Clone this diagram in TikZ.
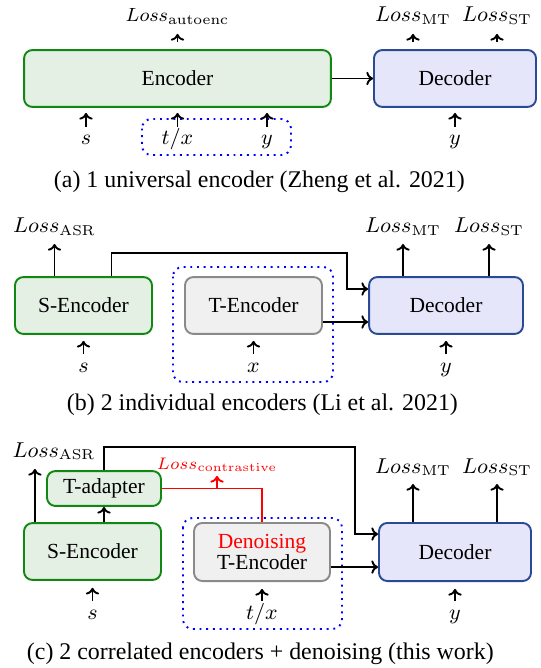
\documentclass[tikz,border=0pt]{standalone}
\usepackage[no-math]{fontspec}
\setmainfont{Liberation Serif}
\usepackage{amsmath}
\usepackage{xcolor}
\usepackage{tikz}
\usetikzlibrary{arrows.meta,positioning,calc}
\definecolor{encline}{HTML}{118811}
\definecolor{encfill}{HTML}{E5F0E5}
\definecolor{decline}{HTML}{2B4A96}
\definecolor{decfill}{HTML}{E6E6FA}
\definecolor{tline}{HTML}{8A8A8A}
\definecolor{tfill}{HTML}{F0F0F0}

\begin{document}
\begin{tikzpicture}[x=0.4184pt,y=-0.4184pt,thick,>={To[length=2.8pt,width=5.6pt]},
  encbox/.style={rectangle,rounded corners=3.5pt,draw=encline,fill=encfill,minimum height=23.8pt,font=\small},
  decbox/.style={rectangle,rounded corners=3.5pt,draw=decline,fill=decfill,minimum height=23.8pt,font=\small},
  tbox/.style={rectangle,rounded corners=3.5pt,draw=tline,fill=tfill,minimum height=23.8pt,font=\small},
  grp/.style={draw=blue,dotted,rounded corners=4pt},
  lss/.style={inner sep=0pt,text depth=0pt,font=\small,anchor=base},
  inp/.style={inner sep=0pt,text height=7.1pt,text depth=0pt,font=\small,anchor=base},
  subcap/.style={anchor=base west,inner sep=0pt}]

  \useasboundingbox (0,0) rectangle (540,668);

  % (a) one universal encoder
  \node[encbox,minimum width=128.4pt] (enc1) at (177.5,78.5) {Encoder};
  \node[decbox,minimum width=67.8pt] (dec1) at (455,78.5) {Decoder};
  \draw[->] (enc1) -- (dec1);
  \draw[grp] (142,119) rectangle (291,155);

  \node[lss,font=\footnotesize] (lae1) at (177.5,22) {$Loss_{\mathrm{autoenc}}$};
  \node[lss] (lmt1) at (413,22) {$Loss_{\mathrm{MT}}$};
  \node[lss] (lst1) at (497,22) {$Loss_{\mathrm{ST}}$};
  \foreach \l in {lae1,lmt1,lst1}
    \draw[->,shorten <=2.9pt,shorten >=4.6pt] (\l.south |- enc1.north) -- (\l.south);

  \node[inp] (s1) at (86,145) {$s$};
  \node[inp] (tx1) at (177.5,145) {$t/x$};
  \node[inp] (y1) at (267,145) {$y$};
  \node[inp] (yd1) at (455,145) {$y$};
  \foreach \i/\b in {s1/enc1,tx1/enc1,y1/enc1,yd1/dec1}
    \draw[->,shorten >=2.1pt] (\i.north) -- (\i.north |- \b.south);

  \node[subcap] (capa) at (53,188) {(a)\ 1 universal encoder (Zheng et al. 2021)};

  % (b) two individual encoders
  \node[encbox,minimum width=57.3pt] (senc2) at (83.5,305.5) {S-Encoder};
  \node[tbox,minimum width=57.3pt] (tenc2) at (253.5,305.5) {T-Encoder};
  \node[decbox,minimum width=64.4pt] (dec2) at (446,305.5) {Decoder};
  \draw[grp] (173,267) rectangle (333,382);

  \draw[->] ([xshift=11.7pt]senc2.north) |- (347,253) |- ([yshift=6.9pt]dec2.west);
  \draw[->] ([yshift=-6.9pt]tenc2.east) -- ([yshift=-6.9pt]dec2.west);

  \node[lss] (lasr2) at (54.5,233) {$Loss_{\mathrm{ASR}}$};
  \node[lss] (lmt2) at (403,233) {$Loss_{\mathrm{MT}}$};
  \node[lss] (lst2) at (489,233) {$Loss_{\mathrm{ST}}$};
  \foreach \l/\b in {lasr2/senc2,lmt2/dec2,lst2/dec2}
    \draw[->,shorten >=4.2pt] (\l.south |- \b.north) -- (\l.south);

  \node[inp] (s2) at (83.5,372) {$s$};
  \node[inp] (x2) at (253.5,372) {$x$};
  \node[inp] (yd2) at (446,372) {$y$};
  \foreach \i/\b in {s2/senc2,x2/tenc2,yd2/dec2}
    \draw[->,shorten >=2.5pt] (\i.north) -- (\i.north |- \b.south);

  \node[subcap] (capb) at (66,410) {(b)\ 2 individual encoders (Li et al. 2021)};

  % (c) two correlated encoders + denoising
  \node[encbox,minimum width=57.3pt] (senc3) at (92.5,551.5) {S-Encoder};
  \node[encbox,minimum width=47.7pt,minimum height=14.6pt,inner sep=1pt] (tad3) at (104,488.5) {T-adapter};
  \node[tbox,minimum width=56.9pt,minimum height=24.3pt,align=center] (tenc3) at (262,552)
    {\textcolor{red}{Denoising}\\[-2.5pt]T-Encoder};
  \node[decbox,minimum width=63.6pt,minimum height=24.3pt] (dec3) at (455,552) {Decoder};
  \draw[grp] (183,518) rectangle (342,629);

  \draw[->] (senc3.north -| tad3) -- (tad3.south);
  \draw[->] (tad3.north) |- (355,447) |- ([yshift=7.5pt]dec3.west);
  \draw[->] ([yshift=-6.3pt]tenc3.east) -- ([yshift=-6.3pt]dec3.west);
  \draw[red] (tad3.east) -| (tenc3.north);

  \node[lss,font=\scriptsize,text=red] (lcon3) at (217,469) {$Loss_{\mathrm{contrastive}}$};
  \draw[->,red,shorten >=2.5pt] (tad3.east -| lcon3) -- (lcon3.south);

  \node[lss] (lasr3) at (54,457) {$Loss_{\mathrm{ASR}}$};
  \draw[->,shorten >=4.6pt] ([xshift=-24.1pt]senc3.north) -- ([xshift=-24.1pt]senc3.north |- lasr3.south);
  \node[lss] (lmt3) at (413,473) {$Loss_{\mathrm{MT}}$};
  \node[lss] (lst3) at (497,473) {$Loss_{\mathrm{ST}}$};
  \foreach \l in {lmt3,lst3}
    \draw[->,shorten >=4.2pt] (\l.south |- dec3.north) -- (\l.south);

  \node[inp] (s3) at (92.5,619) {$s$};
  \node[inp] (tx3) at (262,619) {$t/x$};
  \node[inp] (yd3) at (455,619) {$y$};
  \foreach \i/\b in {s3/senc3,tx3/tenc3,yd3/dec3}
    \draw[->,shorten >=2.9pt] (\i.north) -- (\i.north |- \b.south);

  \node[subcap] (capc) at (26,659) {(c)\ 2 correlated encoders + denoising (this work)};

\end{tikzpicture}
\end{document}
